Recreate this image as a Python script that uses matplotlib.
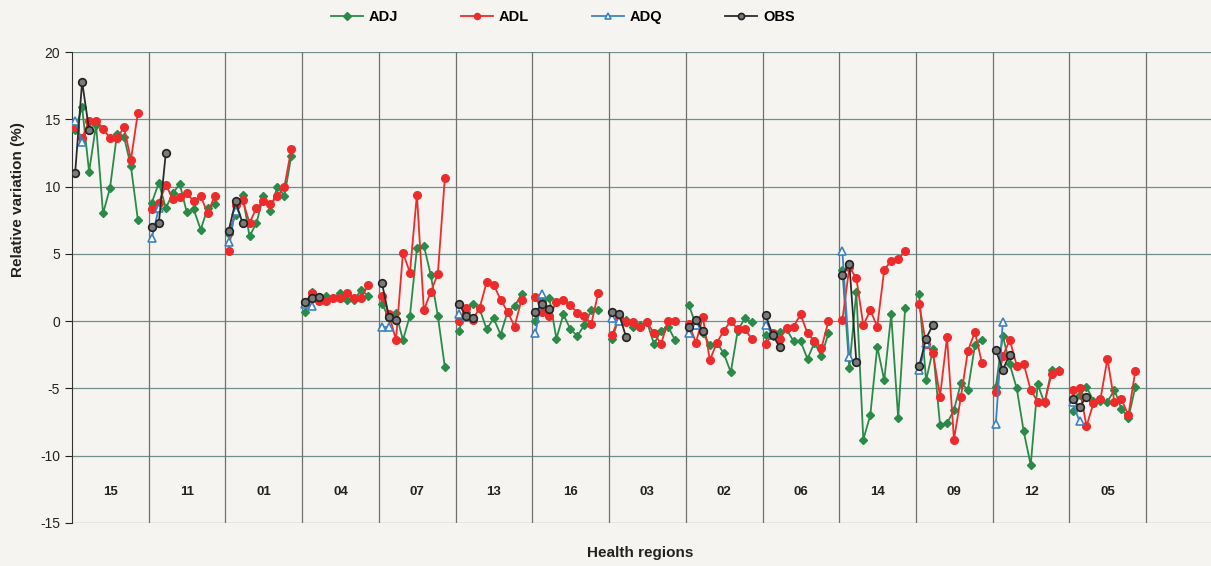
import numpy as np
import matplotlib
matplotlib.use("Agg")
import matplotlib.pyplot as plt

plt.rcParams['font.family'] = ['Liberation Sans', 'DejaVu Sans']
plt.rcParams['axes.unicode_minus'] = False

nan = np.nan
regions = ["15", "11", "01", "04", "07", "13", "16", "03", "02", "06", "14", "09", "12", "05"]

adj = [
    [14.2, 15.9, 11.1, 14.6, 8.0, 9.9, 13.9, 13.7, 11.5, 7.5],
    [8.8, 10.3, 8.4, 9.5, 10.2, 8.1, 8.3, 6.8, 8.4, 8.7],
    [6.5, 7.9, 9.4, 6.3, 7.3, 9.3, 8.2, 10.0, 9.3, 12.3],
    [0.7, 2.2, 1.7, 1.9, 1.7, 2.1, 1.6, 1.6, 2.3, 1.9],
    [1.3, 0.2, 0.6, -1.4, 0.4, 5.4, 5.6, 3.4, 0.4, -3.4],
    [-0.7, 0.7, 1.3, 0.9, -0.6, 0.2, -1.0, 0.7, 1.1, 2.0],
    [0.0, 1.5, 1.7, -1.3, 0.5, -0.6, -1.1, -0.3, 0.8, 0.8],
    [-1.3, 0.3, 0.1, -0.4, -0.3, -0.1, -1.7, -0.7, -0.4, -1.4],
    [1.2, -0.3, -0.9, -1.8, -1.6, -2.4, -3.8, -0.7, 0.2, -0.1],
    [-1.0, -1.1, -0.8, -0.6, -1.5, -1.5, -2.8, -1.6, -2.6, -0.9],
    [3.8, -3.5, 2.2, -8.8, -7.0, -1.9, -4.4, 0.5, -7.2, 1.0],
    [2.0, -4.4, -2.1, -7.7, -7.6, -6.6, -4.6, -5.1, -1.8, -1.4],
    [-4.9, -1.1, -3.2, -5.0, -8.2, -10.7, -4.7, -6.1, -3.6, -3.6],
    [-6.7, -5.5, -4.9, -5.9, -5.9, -6.0, -5.1, -6.5, -7.2, -4.9],
]
adl = [
    [14.4, 13.6, 14.9, 14.9, 14.3, 13.6, 13.6, 14.4, 12.0, 15.5],
    [8.3, 8.8, 10.1, 9.1, 9.2, 9.5, 8.9, 9.3, 8.0, 9.3],
    [5.2, 8.6, 9.0, 7.3, 8.4, 8.9, 8.7, 9.3, 10.0, 12.8],
    [1.4, 2.1, 1.5, 1.5, 1.7, 1.7, 2.1, 1.7, 1.7, 2.7],
    [1.9, 0.5, -1.4, 5.1, 3.6, 9.4, 0.8, 2.2, 3.5, 10.6],
    [0.0, 1.0, 0.1, 1.0, 2.9, 2.7, 1.6, 0.7, -0.4, 1.6],
    [1.8, 0.7, 0.4, 1.4, 1.6, 1.2, 0.6, 0.4, -0.2, 2.1],
    [-1.0, 0.3, -0.1, -0.1, -0.4, -0.1, -0.9, -1.7, 0.0, 0.0],
    [-0.2, -1.6, 0.3, -2.9, -1.6, -0.7, 0.0, -0.6, -0.6, -1.3],
    [-1.7, -0.9, -1.3, -0.5, -0.4, 0.5, -0.9, -1.5, -2.0, 0.0],
    [0.1, 4.0, 3.2, -0.3, 0.8, -0.4, 3.8, 4.5, 4.6, 5.2],
    [1.3, -1.7, -2.4, -5.6, -1.2, -8.8, -5.6, -2.2, -0.8, -3.1],
    [-5.3, -2.6, -1.4, -3.3, -3.2, -5.1, -6.0, -6.0, -3.9, -3.7],
    [-5.1, -5.0, -7.8, -6.1, -5.8, -2.8, -6.0, -5.8, -7.0, -3.7],
]
adq = [
    [14.9, 13.3], [6.2, 8.4], [5.9, 8.2], [1.3, 1.1], [-0.4, -0.4],
    [0.5, 0.3], [-0.9, 2.0], [0.2, 0.0], [-0.85, -0.25], [-0.3, -1.0],
    [5.2, -2.7], [-3.65, -1.65], [-7.65, -0.05], [-6.0, -7.45],
]
obs = [
    [11.0, 17.8, 14.2], [7.0, 7.3, 12.5], [6.7, 8.9, 7.3], [1.4, 1.75, 1.8],
    [2.8, 0.3, 0.1], [1.3, 0.4, 0.2], [0.7, 1.3, 0.9], [0.7, 0.5, -1.2],
    [-0.45, 0.1, -0.7], [0.45, -1.05, -1.9], [3.4, 4.25, -3.0],
    [-3.35, -1.3, -0.25], [-2.15, -3.6, -2.5], [-5.75, -6.4, -5.6],
]

SLOTS = 11
W, H = 1211, 566
fig = plt.figure(figsize=(W / 100, H / 100), dpi=100)
fig.patch.set_facecolor('#f5f4f1')
ax = fig.add_axes([72 / W, (H - 523) / H, (W - 72) / W, (523 - 52) / H])
ax.set_facecolor('#f5f4f1')

grid_h = '#6f8f8c'
for yv in range(-15, 21, 5):
    ax.axhline(yv, color=grid_h, lw=0.9, zorder=1)
for k in range(1, 15):
    ax.axvline(k * SLOTS, color='#707070', lw=0.9, zorder=1)

series = [
    ("ADJ", adj, dict(color='#2a8a47', marker='D', ms=4.5, mfc='#2a8a47', mec='#2a8a47')),
    ("ADL", adl, dict(color='#ee2b2b', marker='o', ms=5.5, mfc='#ee2b2b', mec='#ee2b2b')),
    ("ADQ", adq, dict(color='#3b82c4', marker='^', ms=5.5, mfc='white', mec='#3b82c4', mew=1.2)),
    ("OBS", obs, dict(color='#2b2b2b', marker='o', ms=5.5, mfc='#7a7a7a', mec='#222222', mew=1.2)),
]
handles = []
for z, (name, data, st) in enumerate(series):
    h = None
    for r, vals in enumerate(data):
        xs = r * SLOTS + np.arange(len(vals)) + 0.45
        h, = ax.plot(xs, vals, lw=1.3, zorder=3 + z, label=name, **st)
    handles.append(h)

for r, name in enumerate(regions):
    ax.text(r * SLOTS + SLOTS / 2, -12.7, name, ha='center', va='center',
            fontsize=9.5, fontweight='bold', color='#222222')

ax.set_xlim(0, 163.3)
ax.set_ylim(-15, 20)
ax.set_yticks(range(-15, 21, 5))
ax.set_xticks([])
ax.tick_params(axis='y', labelsize=10, direction='out', length=5, colors='#222222')
for s in ['top', 'right', 'bottom']:
    ax.spines[s].set_visible(False)
ax.spines['left'].set_color('#333333')

fig.text(18 / W, 1 - 200 / H, "Relative variation (%)", rotation=90, ha='center', va='center',
         fontsize=11, fontweight='bold', color='#222222')
fig.text(640 / W, 1 - 553 / H, "Health regions", ha='center', va='center',
         fontsize=11, fontweight='bold', color='#222222')

leg = fig.legend(handles, [h.get_label() for h in handles], loc='center', ncol=4,
                 bbox_to_anchor=(563 / W, 1 - 17 / H), frameon=False, handlelength=2.2,
                 columnspacing=4.3, handletextpad=0.4, markerscale=0.8,
                 prop={'weight': 'bold', 'size': 10.5})

fig.savefig('out.png', dpi=100, facecolor=fig.get_facecolor())
